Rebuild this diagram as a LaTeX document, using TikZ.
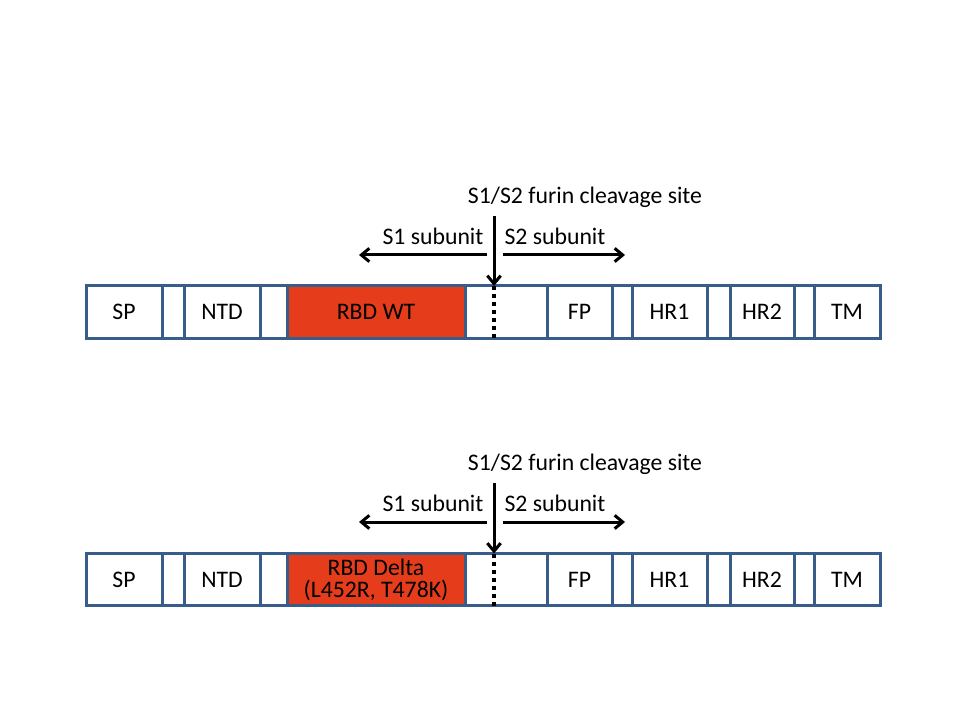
\documentclass[tikz,border=0pt]{standalone}
\usepackage{fontspec}
\setmainfont{Carlito}
\usepackage{tikz}
\usetikzlibrary{positioning,calc,arrows.meta}

\definecolor{barblue}{HTML}{385D8A}
\definecolor{rbdred}{HTML}{E53D1C}

\tikzset{
	seg/.style = {draw=barblue, line width=2.25pt, anchor=west,
		minimum height=39pt, inner sep=0pt, outer sep=0pt},
	rbd/.style = {seg, fill=rbdred, align=center},
	cutline/.style = {line width=3pt, dash pattern=on 3pt off 3pt},
	arr/.style = {line width=2.25pt, -{Straight Barb[length=6pt,width=10pt]}}
}

\begin{document}
\begin{tikzpicture}[x=0.75pt,y=-0.75pt,
		font=\fontsize{17.8}{16.5}\selectfont]
	\useasboundingbox (0,0) rectangle (960,720);

	% wild type spike
	\node[seg, minimum width=57pt] (sp) at (86,312) {SP};
	\node[seg, minimum width=16.5pt, right=0pt of sp] (g1) {};
	\node[seg, minimum width=57pt, right=0pt of g1] (ntd) {NTD};
	\node[seg, minimum width=20.25pt, right=0pt of ntd] (g2) {};
	\node[rbd, minimum width=133.5pt, right=0pt of g2] (rbd) {RBD WT};
	\node[seg, minimum width=61.5pt, right=0pt of rbd] (cut) {};
	\node[seg, minimum width=48.75pt, right=0pt of cut] (fp) {FP};
	\node[seg, minimum width=15pt, right=0pt of fp] (g3) {};
	\node[seg, minimum width=56.25pt, right=0pt of g3] (hr1) {HR1};
	\node[seg, minimum width=17.25pt, right=0pt of hr1] (g4) {};
	\node[seg, minimum width=48pt, right=0pt of g4] (hr2) {HR2};
	\node[seg, minimum width=15pt, right=0pt of hr2] (g5) {};
	\node[seg, minimum width=49.5pt, right=0pt of g5] (tm) {TM};

	\coordinate (st) at ($(cut.north west)+(29,0)$);
	\coordinate (sb) at ($(cut.south west)+(29,0)$);
	\draw[cutline] (st) -- (sb);

	\node (site) at (585,197) {S1/S2 furin cleavage site};
	\node (s1) at (433,236) {S1 subunit};
	\node (s2) at (555,236) {S2 subunit};
	\coordinate (stop) at (494,216);
	\coordinate (l1) at (487,255);
	\coordinate (l0) at (359,255);
	\coordinate (r1) at (503,255);
	\coordinate (r0) at (625,255);
	\draw[arr] (stop) -- (st);
	\draw[arr] (l1) -- (l0);
	\draw[arr] (r1) -- (r0);

	% delta spike
	\node[seg, minimum width=57pt] (dsp) at (86,579.5) {SP};
	\node[seg, minimum width=16.5pt, right=0pt of dsp] (dg1) {};
	\node[seg, minimum width=57pt, right=0pt of dg1] (dntd) {NTD};
	\node[seg, minimum width=20.25pt, right=0pt of dntd] (dg2) {};
	\node[rbd, minimum width=133.5pt, right=0pt of dg2] (drbd) {RBD Delta\\(L452R, T478K)};
	\node[seg, minimum width=61.5pt, right=0pt of drbd] (dcut) {};
	\node[seg, minimum width=48.75pt, right=0pt of dcut] (dfp) {FP};
	\node[seg, minimum width=15pt, right=0pt of dfp] (dg3) {};
	\node[seg, minimum width=56.25pt, right=0pt of dg3] (dhr1) {HR1};
	\node[seg, minimum width=17.25pt, right=0pt of dhr1] (dg4) {};
	\node[seg, minimum width=48pt, right=0pt of dg4] (dhr2) {HR2};
	\node[seg, minimum width=15pt, right=0pt of dhr2] (dg5) {};
	\node[seg, minimum width=49.5pt, right=0pt of dg5] (dtm) {TM};

	\coordinate (dst) at ($(dcut.north west)+(29,0)$);
	\coordinate (dsb) at ($(dcut.south west)+(29,0)$);
	\draw[cutline] (dst) -- (dsb);

	\node (dsite) at (585,464) {S1/S2 furin cleavage site};
	\node (ds1) at (433,503) {S1 subunit};
	\node (ds2) at (555,503) {S2 subunit};
	\coordinate (dstop) at (494,483);
	\coordinate (dl1) at (487,522);
	\coordinate (dl0) at (359,522);
	\coordinate (dr1) at (503,522);
	\coordinate (dr0) at (625,522);
	\draw[arr] (dstop) -- (dst);
	\draw[arr] (dl1) -- (dl0);
	\draw[arr] (dr1) -- (dr0);
\end{tikzpicture}
\end{document}
